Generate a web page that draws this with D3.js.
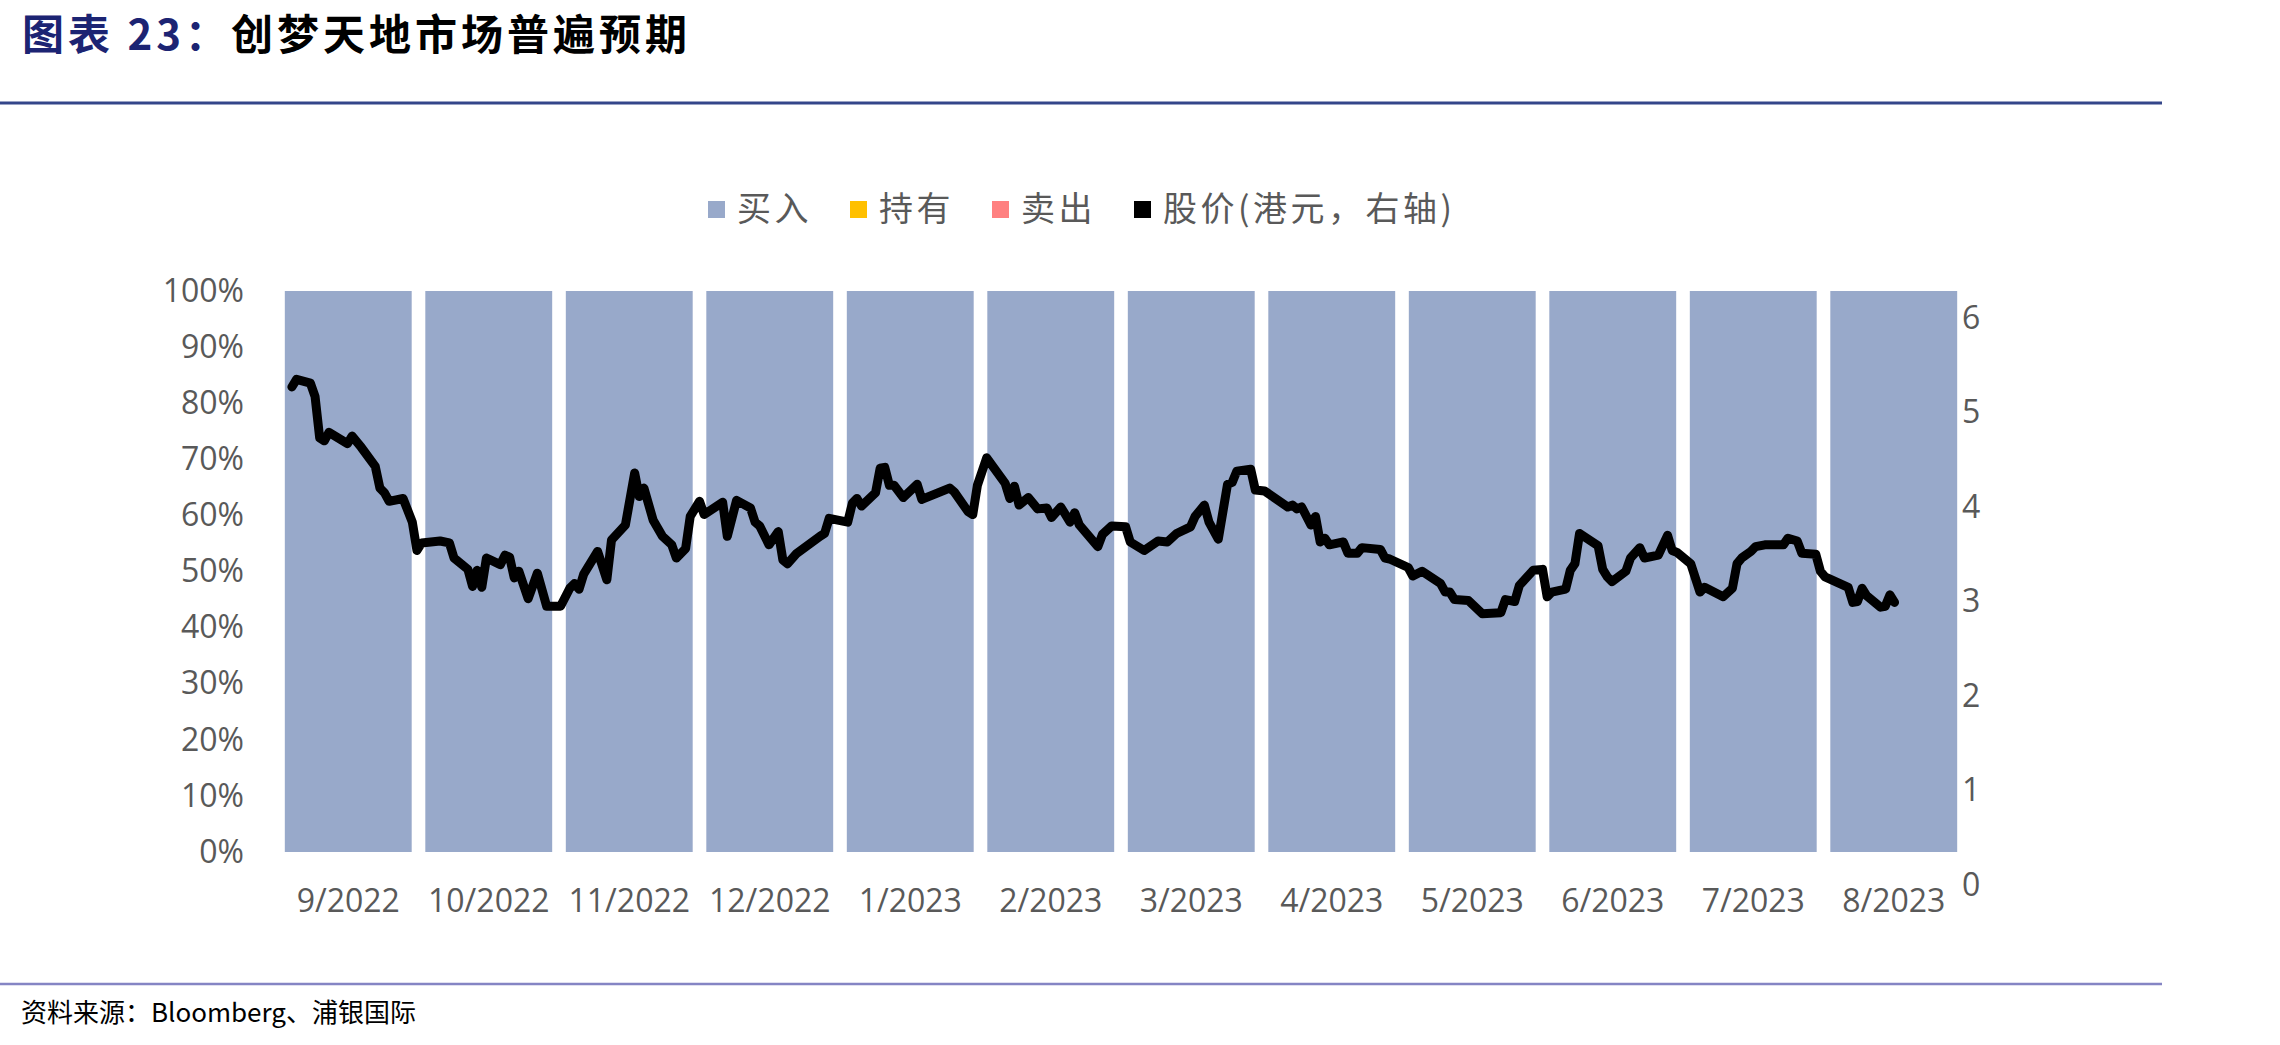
<!DOCTYPE html>
<html>
<head>
<meta charset="utf-8">
<script src="https://cdn.jsdelivr.net/npm/d3@7"></script>
<style>
  html, body { margin: 0; padding: 0; background: #fff; }
  svg { display: block; }
  .axis text { font-family: "Open Sans", sans-serif; font-size: 32px; fill: #595959; }
  .axis path, .axis line { display: none; }
</style>
</head>
<body>
<div id="chart"></div>
<script>
// monthly analyst rating split (share of ratings)
const months = ['9/2022', '10/2022', '11/2022', '12/2022', '1/2023', '2/2023',
  '3/2023', '4/2023', '5/2023', '6/2023', '7/2023', '8/2023']
const buyShare  = [1, 1, 1, 1, 1, 1, 1, 1, 1, 1, 1, 1]
const holdShare = [0, 0, 0, 0, 0, 0, 0, 0, 0, 0, 0, 0]
const sellShare = [0, 0, 0, 0, 0, 0, 0, 0, 0, 0, 0, 0]

// share price (HKD), days counted from 2022-09-01
const priceDay = [
  3, 4, 7, 8, 9, 10, 11, 15, 16, 18, 21, 22, 23, 24, 27, 29, 30, 31, 35, 37,
  38, 41, 42, 43, 44, 45, 48, 49, 50, 51, 52, 54, 56, 58, 61, 63, 64, 65, 66, 69,
  71, 72, 75, 77, 78, 79, 81, 83, 85, 86, 88, 89,
  91, 92, 96, 97, 99, 102, 103, 104, 106, 108, 109, 110, 112, 117, 118, 119, 123, 124, 125, 126,
  129, 130, 131, 132, 133, 135, 138, 139, 145, 146, 149, 150, 151, 153, 157, 158, 159, 160, 162, 164,
  166, 167, 169, 171, 172, 173, 177, 178,
  180, 183, 184, 187, 190, 192, 194, 197, 198, 200, 201, 203, 205, 206, 207, 210, 211, 213, 218, 219,
  220, 221, 223, 224, 225, 226, 227, 230, 231, 233, 234, 238, 239, 240, 244, 245, 247, 251, 252, 253,
  254, 257, 260, 264, 265, 267,
  268, 271, 273, 274, 275, 278, 279, 280, 281, 285, 286, 287, 288, 291, 292, 294, 295, 298, 300, 301,
  302, 305, 307, 308, 312, 314, 315, 316, 318, 319, 321, 325, 326, 328, 329, 332, 333, 334, 339, 340,
  341, 342, 343, 346, 347, 348, 349
]
const price = [
  5.27, 5.35, 5.31, 5.17, 4.73, 4.70, 4.79, 4.67, 4.75, 4.63, 4.43, 4.20, 4.15, 4.06, 4.09, 3.84, 3.54, 3.62, 3.64, 3.62,
  3.46, 3.34, 3.16, 3.33, 3.15, 3.46, 3.39, 3.49, 3.47, 3.25, 3.32, 3.03, 3.30, 2.95, 2.95, 3.14, 3.19, 3.13, 3.29, 3.53,
  3.23, 3.65, 3.81, 4.36, 4.11, 4.20, 3.86, 3.69, 3.60, 3.46, 3.56, 3.90,
  4.06, 3.92, 4.05, 3.69, 4.07, 3.99, 3.84, 3.80, 3.60, 3.74, 3.44, 3.40, 3.51, 3.69, 3.72, 3.88, 3.84, 4.04, 4.09, 4.01,
  4.15, 4.41, 4.42, 4.23, 4.23, 4.10, 4.24, 4.08, 4.20, 4.16, 3.95, 3.92, 4.23, 4.52, 4.25, 4.09, 4.22, 4.02, 4.10, 3.98,
  3.99, 3.89, 4.00, 3.84, 3.94, 3.81, 3.58, 3.71,
  3.80, 3.79, 3.63, 3.54, 3.64, 3.63, 3.72, 3.79, 3.90, 4.02, 3.84, 3.66, 4.24, 4.26, 4.38, 4.40, 4.18, 4.17, 4.00, 4.02,
  3.98, 4.00, 3.81, 3.90, 3.63, 3.67, 3.60, 3.63, 3.51, 3.51, 3.57, 3.55, 3.46, 3.45, 3.36, 3.27, 3.32, 3.19, 3.10, 3.10,
  3.02, 3.01, 2.87, 2.88, 3.02, 3.00,
  3.17, 3.33, 3.34, 3.05, 3.10, 3.13, 3.33, 3.40, 3.72, 3.59, 3.34, 3.26, 3.21, 3.32, 3.46, 3.57, 3.46, 3.49, 3.70, 3.54,
  3.52, 3.40, 3.10, 3.15, 3.05, 3.14, 3.40, 3.46, 3.53, 3.58, 3.60, 3.60, 3.67, 3.64, 3.51, 3.50, 3.32, 3.26, 3.15, 2.99,
  3.00, 3.14, 3.06, 2.94, 2.95, 3.07, 2.99
]

const pctTicks = [0, 0.1, 0.2, 0.3, 0.4, 0.5, 0.6, 0.7, 0.8, 0.9, 1]
const priceTicks = [0, 1, 2, 3, 4, 5, 6]

const seriesNames = ['买入', '持有', '卖出']
const seriesColors = ['#98A9CA', '#FFC000', '#FF8080']
const lineName = '股价(港元，右轴)'

const width = 2280
const height = 1045

const svg = d3.select('#chart')
  .append('svg')
  .attr('width', width)
  .attr('height', height)

// title
const title = svg.append('text')
  .attr('x', 22)
  .attr('y', 50)
  .style('font-family', '"Noto Sans CJK SC", sans-serif')
  .style('font-size', '42px')
  .style('font-weight', 'bold')
  .style('letter-spacing', '4px')
title.append('tspan').attr('fill', '#1C2473').text('图表 23：')
title.append('tspan').attr('fill', '#000').text('创梦天地市场普遍预期')

svg.append('line')
  .attr('x1', 0).attr('x2', 2162)
  .attr('y1', 103).attr('y2', 103)
  .attr('stroke', '#34468A')
  .attr('stroke-width', 3)

// scales
const x = d3.scaleBand()
  .domain(months)
  .range([278, 1964])
  .paddingInner(0.097)
  .paddingOuter(0.0485)

const yPct = d3.scaleLinear().domain([0, 1]).range([852, 291])
const yPrice = d3.scaleLinear().domain([0, 6]).range([885, 318])

const start = new Date(2022, 8, 1)
const xTime = d3.scaleTime()
  .domain([start, new Date(2023, 7, 31)])
  .range([278, 1964])

// stacked bars
const table = months.map((m, i) => ({ month: m, '买入': buyShare[i], '持有': holdShare[i], '卖出': sellShare[i] }))
const stacked = d3.stack().keys(seriesNames)(table)

svg.append('g')
  .selectAll('g')
  .data(stacked)
  .enter().append('g')
  .attr('fill', (d, i) => seriesColors[i])
  .selectAll('rect')
  .data(d => d)
  .enter().append('rect')
  .attr('x', d => x(d.data.month))
  .attr('width', x.bandwidth())
  .attr('y', d => yPct(d[1]))
  .attr('height', d => yPct(d[0]) - yPct(d[1]))

// price line
const points = priceDay.map((d, i) => ({ date: d3.timeDay.offset(start, d), value: price[i] }))
const line = d3.line()
  .x(d => xTime(d.date))
  .y(d => yPrice(d.value))

svg.append('path')
  .datum(points)
  .attr('fill', 'none')
  .attr('stroke', '#000')
  .attr('stroke-width', 9)
  .attr('stroke-linejoin', 'round')
  .attr('stroke-linecap', 'round')
  .attr('d', line)

// axes
svg.append('g')
  .attr('class', 'axis')
  .attr('transform', 'translate(244,0)')
  .call(d3.axisLeft(yPct).tickValues(pctTicks).tickFormat(d3.format('.0%')).tickSize(0).tickPadding(0))

svg.append('g')
  .attr('class', 'axis')
  .attr('transform', 'translate(1962,0)')
  .call(d3.axisRight(yPrice).tickValues(priceTicks).tickFormat(d3.format('d')).tickSize(0).tickPadding(0))

const xAxis = svg.append('g')
  .attr('class', 'axis')
  .attr('transform', 'translate(0,901)')
  .call(d3.axisBottom(x).tickSize(0).tickPadding(0))
xAxis.selectAll('text').attr('y', 0).attr('dy', '0.35em')

// legend
const legend = svg.append('g')
  .style('font-family', '"Noto Sans CJK SC", sans-serif')
  .style('font-size', '34px')
  .style('letter-spacing', '3.5px')
  .attr('fill', '#595959')

const legendItems = seriesNames.map((n, i) => ({ name: n, color: seriesColors[i] }))
legendItems.push({ name: lineName, color: '#000' })

let lx = 708
legendItems.forEach(it => {
  legend.append('rect')
    .attr('x', lx).attr('y', 201)
    .attr('width', 17).attr('height', 17)
    .attr('fill', it.color)
  let t = legend.append('text')
    .attr('x', lx + 29)
    .attr('y', 209)
    .attr('dy', '0.35em')
    .text(it.name)
  lx += 29 + t.node().getComputedTextLength() + 38
})

// footer
svg.append('line')
  .attr('x1', 0).attr('x2', 2162)
  .attr('y1', 984).attr('y2', 984)
  .attr('stroke', '#8585C4')
  .attr('stroke-width', 2.5)

svg.append('text')
  .attr('x', 21)
  .attr('y', 1013)
  .attr('dy', '0.35em')
  .style('font-family', '"Noto Sans CJK SC", sans-serif')
  .style('font-size', '26px')
  .attr('fill', '#000')
  .text('资料来源：Bloomberg、浦银国际')
</script>
</body>
</html>
